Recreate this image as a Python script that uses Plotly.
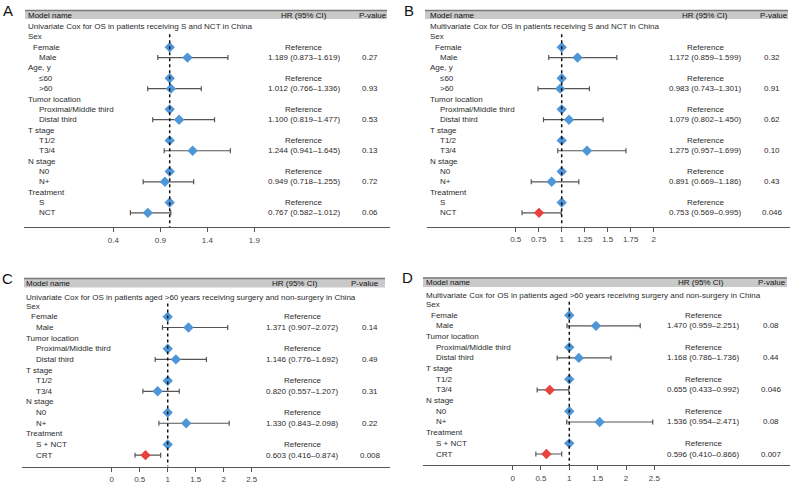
import plotly.graph_objects as go

W, H = 793, 486

# ---------------- data ----------------
A_title = "Univariate Cox for OS in patients receiving S and NCT in China"
A_labels = ["Sex", "Female", "Male", "Age, y", "≤60", ">60", "Tumor location",
            "Proximal/Middle third", "Distal third", "T stage", "T1/2", "T3/4",
            "N stage", "N0", "N+", "Treatment", "S", "NCT"]
A_hr = [None, 1, 1.189, None, 1, 1.012, None, 1, 1.100, None, 1, 1.244, None, 1, 0.949, None, 1, 0.767]
A_lo = [None, None, 0.873, None, None, 0.766, None, None, 0.819, None, None, 0.941, None, None, 0.718, None, None, 0.582]
A_hi = [None, None, 1.619, None, None, 1.336, None, None, 1.477, None, None, 1.645, None, None, 1.255, None, None, 1.012]
A_p = [None, None, "0.27", None, None, "0.93", None, None, "0.53", None, None, "0.13", None, None, "0.72", None, None, "0.06"]
A_ticks = [0.4, 0.9, 1.4, 1.9]
A_ticktext = ["0.4", "0.9", "1.4", "1.9"]

B_title = "Multivariate Cox for OS in patients receiving S and NCT in China"
B_labels = A_labels
B_hr = [None, 1, 1.172, None, 1, 0.983, None, 1, 1.079, None, 1, 1.275, None, 1, 0.891, None, 1, 0.753]
B_lo = [None, None, 0.859, None, None, 0.743, None, None, 0.802, None, None, 0.957, None, None, 0.669, None, None, 0.569]
B_hi = [None, None, 1.599, None, None, 1.301, None, None, 1.450, None, None, 1.699, None, None, 1.186, None, None, 0.995]
B_p = [None, None, "0.32", None, None, "0.91", None, None, "0.62", None, None, "0.10", None, None, "0.43", None, None, "0.046"]
B_ticks = [0.5, 0.75, 1, 1.25, 1.5, 1.75, 2]
B_ticktext = ["0.5", "0.75", "1", "1.25", "1.5", "1.75", "2"]

C_title = "Univariate Cox for OS in patients aged >60 years receiving surgery and non-surgery in China"
C_labels = ["Sex", "Female", "Male", "Tumor location", "Proximal/Middle third", "Distal third",
            "T stage", "T1/2", "T3/4", "N stage", "N0", "N+", "Treatment", "S + NCT", "CRT"]
C_hr = [None, 1, 1.371, None, 1, 1.146, None, 1, 0.820, None, 1, 1.330, None, 1, 0.603]
C_lo = [None, None, 0.907, None, None, 0.776, None, None, 0.557, None, None, 0.843, None, None, 0.416]
C_hi = [None, None, 2.072, None, None, 1.692, None, None, 1.207, None, None, 2.098, None, None, 0.874]
C_p = [None, None, "0.14", None, None, "0.49", None, None, "0.31", None, None, "0.22", None, None, "0.008"]
C_ticks = [0, 0.5, 1, 1.5, 2, 2.5]
C_ticktext = ["0", "0.5", "1", "1.5", "2", "2.5"]

D_title = "Multivariate Cox for OS in patients aged >60 years receiving surgery and non-surgery in China"
D_labels = C_labels
D_hr = [None, 1, 1.470, None, 1, 1.168, None, 1, 0.655, None, 1, 1.536, None, 1, 0.596]
D_lo = [None, None, 0.959, None, None, 0.786, None, None, 0.433, None, None, 0.954, None, None, 0.410]
D_hi = [None, None, 2.251, None, None, 1.736, None, None, 0.992, None, None, 2.471, None, None, 0.866]
D_p = [None, None, "0.08", None, None, "0.44", None, None, "0.046", None, None, "0.08", None, None, "0.007"]
D_ticks = C_ticks
D_ticktext = C_ticktext

# ---------------- layout geometry (pixels) ----------------
panels = [
    dict(letter="A", lx=1, ly=10, title=A_title, labels=A_labels, hr=A_hr, lo=A_lo, hi=A_hi, p=A_p,
         ticks=A_ticks, ticktext=A_ticktext,
         xl=24, xr=390, x1=169.7, ppu=94.0, hx0=25, hx1=387, ht=10, hb=19,
         ysex=36.9, sp=10.35, ty=26.5, ab=227.3, hrx=303.5, px=370, hhx=304, phx=373,
         gx=26, ix=37, fx=31),
    dict(letter="B", lx=402, ly=10, title=B_title, labels=B_labels, hr=B_hr, lo=B_lo, hi=B_hi, p=B_p,
         ticks=B_ticks, ticktext=B_ticktext,
         xl=427, xr=790, x1=561.7, ppu=92.0, hx0=425, hx1=788, ht=10, hb=19,
         ysex=36.9, sp=10.35, ty=26.5, ab=226.7, hrx=705, px=772, hhx=705, phx=774,
         gx=428, ix=438, fx=433),
    dict(letter="C", lx=0, ly=278, title=C_title, labels=C_labels, hr=C_hr, lo=C_lo, hi=C_hi, p=C_p,
         ticks=C_ticks, ticktext=C_ticktext,
         xl=22, xr=390, x1=167.7, ppu=56.0, hx0=24, hx1=385, ht=278, hb=287.5,
         ysex=306.2, sp=10.64, ty=297.8, ab=466.6, hrx=302, px=370, hhx=295, phx=365,
         gx=24, ix=34, fx=29),
    dict(letter="D", lx=400, ly=277, title=D_title, labels=D_labels, hr=D_hr, lo=D_lo, hi=D_hi, p=D_p,
         ticks=D_ticks, ticktext=D_ticktext,
         xl=423, xr=790, x1=569.3, ppu=56.7, hx0=423, hx1=787, ht=277.5, hb=287,
         ysex=304.5, sp=10.68, ty=295.5, ab=465.2, hrx=703, px=771, hhx=701, phx=772,
         gx=424, ix=434, fx=429),
]

FONT = "Liberation Sans, Arial, Helvetica, sans-serif"
TXT = "#2b2b2b"
BLUE = "#4f96d8"
RED = "#e8423f"
BAR = "#555555"


def fxp(px):
    return px / W


def fyp(py):
    return 1 - py / H


fig = go.Figure()
annotations = []
shapes = []
layout_axes = {}

for k, pn in enumerate(panels):
    n = k + 1
    xa = "xaxis" if n == 1 else f"xaxis{n}"
    ya = "yaxis" if n == 1 else f"yaxis{n}"
    xr_ = "x" if n == 1 else f"x{n}"
    yr_ = "y" if n == 1 else f"y{n}"

    x_lo = 1 + (pn["xl"] - pn["x1"]) / pn["ppu"]
    x_hi = 1 + (pn["xr"] - pn["x1"]) / pn["ppu"]
    y_top = (pn["ht"] - pn["ysex"]) / pn["sp"]
    y_bot = (pn["ab"] - pn["ysex"]) / pn["sp"]

    layout_axes[xa] = dict(domain=[fxp(pn["xl"]), fxp(pn["xr"])], range=[x_lo, x_hi], anchor=yr_,
                           showgrid=False, zeroline=False, showline=True, linecolor=BAR, linewidth=1,
                           ticks="outside", ticklen=4, tickcolor=BAR, tickwidth=1,
                           tickvals=pn["ticks"], ticktext=pn["ticktext"], ticklabelstandoff=1,
                           tickfont=dict(family=FONT, size=8, color="#444"), fixedrange=True)
    layout_axes[ya] = dict(domain=[fyp(pn["ab"]), fyp(pn["ht"])], range=[y_bot, y_top], anchor=xr_,
                           visible=False, fixedrange=True)

    # header bar
    shapes.append(dict(type="rect", xref="paper", yref="paper", x0=fxp(pn["hx0"]), x1=fxp(pn["hx1"]),
                       y0=fyp(pn["hb"]), y1=fyp(pn["ht"]), fillcolor="#c9c9c9", line=dict(width=0),
                       layer="below"))
    shapes.append(dict(type="line", xref="paper", yref="paper", x0=fxp(pn["hx0"]), x1=fxp(pn["hx1"]),
                       y0=fyp(pn["ht"] + 0.5), y1=fyp(pn["ht"] + 0.5), line=dict(color="#7a7a7a", width=1.5)))
    hy = (pn["ht"] + pn["hb"]) / 2 + 0.5
    annotations.append(dict(text="Model name", xref="paper", yref="paper", x=fxp(pn["gx"]), y=fyp(hy),
                            xanchor="left", yanchor="middle", showarrow=False,
                            font=dict(family=FONT, size=8, color="#111")))
    annotations.append(dict(text="HR (95% CI)", xref="paper", yref="paper", x=fxp(pn["hhx"]), y=fyp(hy),
                            xanchor="center", yanchor="middle", showarrow=False,
                            font=dict(family=FONT, size=8, color="#111")))
    annotations.append(dict(text="P-value", xref="paper", yref="paper", x=fxp(pn["phx"]), y=fyp(hy),
                            xanchor="center", yanchor="middle", showarrow=False,
                            font=dict(family=FONT, size=8, color="#111")))
    # panel letter
    annotations.append(dict(text=pn["letter"], xref="paper", yref="paper", x=fxp(pn["lx"]), y=fyp(pn["ly"]),
                            xanchor="left", yanchor="middle", showarrow=False,
                            font=dict(family=FONT, size=15, color="#111")))
    # title row
    annotations.append(dict(text=pn["title"], xref="paper", yref="paper", x=fxp(pn["gx"]), y=fyp(pn["ty"]),
                            xanchor="left", yanchor="middle", showarrow=False,
                            font=dict(family=FONT, size=8, color=TXT)))

    # reference dotted line at HR = 1
    shapes.append(dict(type="line", xref=xr_, yref=yr_, x0=1, x1=1, y0=-0.25, y1=y_bot,
                       line=dict(color="#111", width=1.5, dash="dot")))

    ref_y, est_y, est_x, est_plus, est_minus, est_col = [], [], [], [], [], []
    for i, lab in enumerate(pn["labels"]):
        py = pn["ysex"] + pn["sp"] * i
        hr = pn["hr"][i]
        if hr is None:
            xpos = pn["gx"]
        elif lab == "Female":
            xpos = pn["fx"]
        else:
            xpos = pn["ix"]
        annotations.append(dict(text=lab, xref="paper", yref="paper", x=fxp(xpos), y=fyp(py),
                                xanchor="left", yanchor="middle", showarrow=False,
                                font=dict(family=FONT, size=8, color=TXT)))
        if hr is None:
            continue
        lo, hi, pv = pn["lo"][i], pn["hi"][i], pn["p"][i]
        if lo is None:
            ref_y.append(i)
            annotations.append(dict(text="Reference", xref="paper", yref="paper", x=fxp(pn["hrx"]), y=fyp(py),
                                    xanchor="center", yanchor="middle", showarrow=False,
                                    font=dict(family=FONT, size=8, color=TXT)))
        else:
            est_y.append(i)
            est_x.append(hr)
            est_plus.append(hi - hr)
            est_minus.append(hr - lo)
            est_col.append(RED if float(pv) < 0.05 else BLUE)
            annotations.append(dict(text=f"{hr:.3f} ({lo:.3f}–{hi:.3f})", xref="paper", yref="paper",
                                    x=fxp(pn["hrx"]), y=fyp(py), xanchor="center", yanchor="middle",
                                    showarrow=False, font=dict(family=FONT, size=8, color=TXT)))
            annotations.append(dict(text=pv, xref="paper", yref="paper", x=fxp(pn["px"]), y=fyp(py),
                                    xanchor="center", yanchor="middle", showarrow=False,
                                    font=dict(family=FONT, size=8, color=TXT)))

    fig.add_trace(go.Scatter(x=est_x, y=est_y, xaxis=xr_, yaxis=yr_, mode="markers",
                             marker=dict(symbol="diamond", size=8, color=est_col, line=dict(width=0)),
                             error_x=dict(type="data", symmetric=False, array=est_plus, arrayminus=est_minus,
                                          color=BAR, thickness=1.2, width=2.5),
                             showlegend=False, hoverinfo="skip"))
    fig.add_trace(go.Scatter(x=[1] * len(ref_y), y=ref_y, xaxis=xr_, yaxis=yr_, mode="markers",
                             marker=dict(symbol="diamond", size=8, color=BLUE, line=dict(width=0)),
                             showlegend=False, hoverinfo="skip"))

fig.update_layout(width=W, height=H, margin=dict(l=0, r=0, t=0, b=0),
                  paper_bgcolor="white", plot_bgcolor="rgba(0,0,0,0)",
                  annotations=annotations, shapes=shapes, showlegend=False,
                  font=dict(family=FONT, size=8, color=TXT), **layout_axes)

fig.write_html("out.html", config={"displayModeBar": False},
               post_script="document.body.style.margin='0px';document.body.style.overflow='hidden';")
